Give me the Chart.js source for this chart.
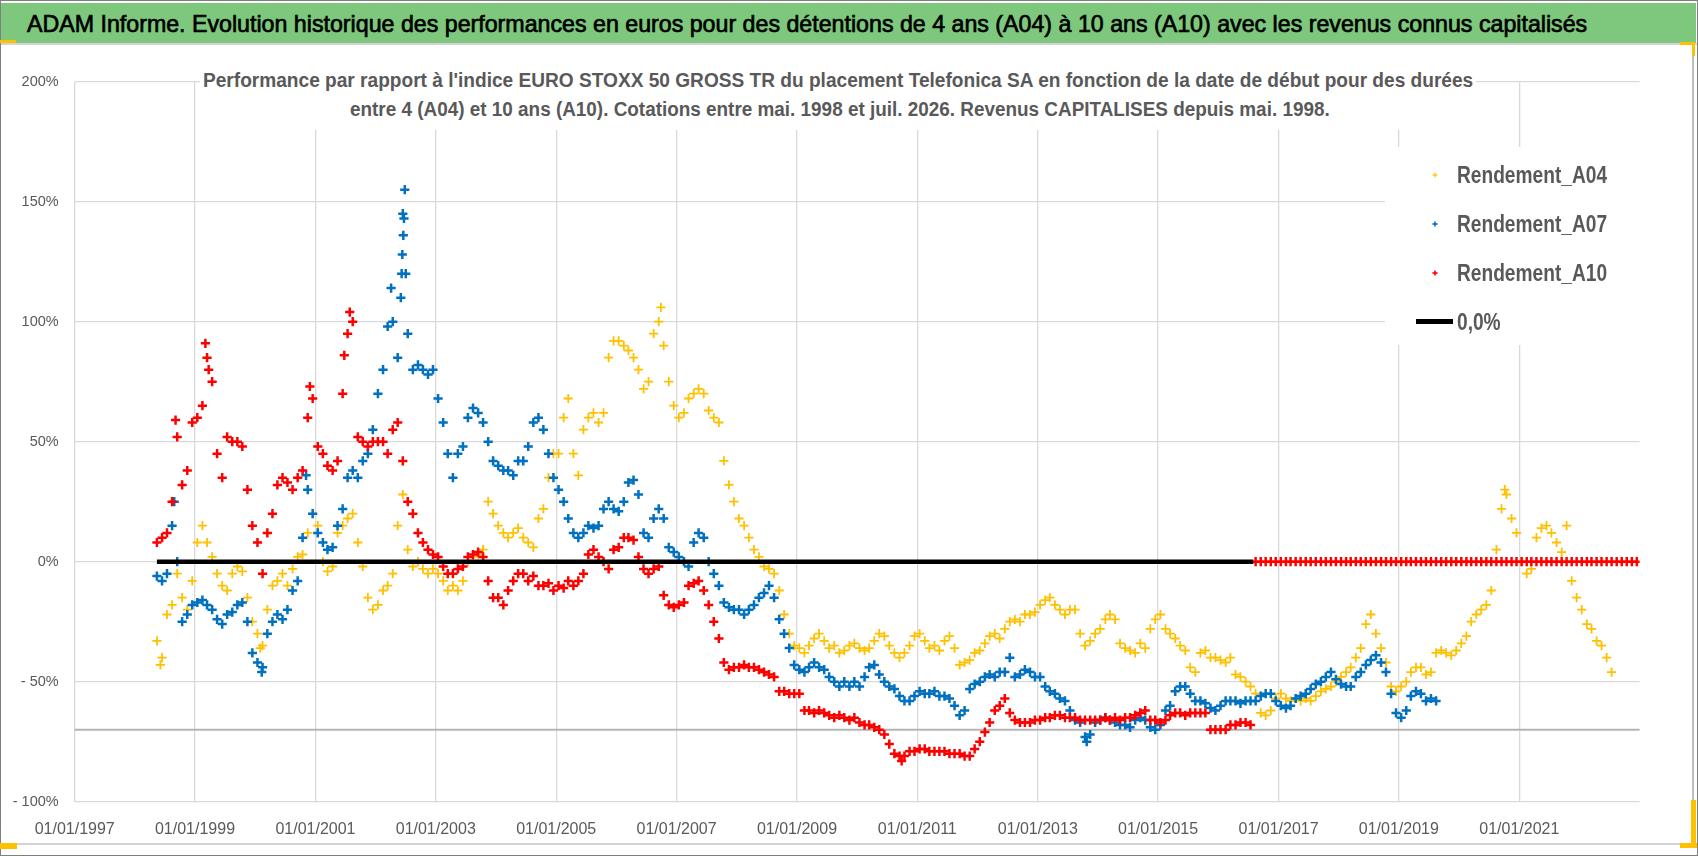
<!DOCTYPE html>
<html>
<head>
<meta charset="utf-8">
<script src="https://cdn.jsdelivr.net/npm/chart.js@4.4.1/dist/chart.umd.min.js"></script>
<style>
html,body{margin:0;padding:0;background:#fff;}
#wrap{position:relative;width:1698px;height:856px;overflow:hidden;background:#fff;font-family:"Liberation Sans",Arial,sans-serif;}
#c{position:absolute;left:0;top:0;}
.abs{position:absolute;pointer-events:none;}
.fit{position:absolute;white-space:nowrap;transform-origin:0 50%;line-height:1;pointer-events:none;}
</style>
</head>
<body>
<div id="wrap">
  <canvas id="c" width="1698" height="856"></canvas>
</div>
<script>
// ---------------- DATA ----------------
const TITLE = "ADAM Informe. Evolution historique des performances en euros pour des détentions de 4 ans (A04) à 10 ans (A10) avec les revenus connus capitalisés";
const SUBTITLE_LINES = [
  "Performance par rapport à l'indice EURO STOXX 50 GROSS TR  du placement Telefonica SA en fonction de la date de début pour des durées",
  "entre 4 (A04) et 10 ans (A10). Cotations entre mai. 1998 et juil. 2026. Revenus CAPITALISES depuis mai. 1998."
];

// monthly readings (mid-month), first reading May 1998
const SERIES_START = [1998, 5];

const A04 = [
  /*1998*/ -33,-40,-22,-18,-5,-15,-20,-8,
  /*1999*/ 8,15,8,2,-5,-10,-12,-5,-2,-4,-15,-25,
  /*2000*/ -30,-35,-20,-10,-8,-5,-10,-3,2,3,12,20,
  /*2001*/ 15,0,-4,-2,12,15,18,20,8,-2,-15,-20,
  /*2002*/ -18,-12,-10,-5,15,28,5,-2,0,-3,-5,-3,
  /*2003*/ -5,-8,-12,-10,-12,-8,0,2,3,5,25,20,
  /*2004*/ 15,12,10,12,14,10,8,6,18,22,35,45,
  /*2005*/ 45,60,68,45,36,55,60,62,58,62,85,92,
  /*2006*/ 92,90,88,85,80,72,75,95,100,90,75,65,
  /*2007*/ 60,62,68,70,72,70,63,60,58,42,32,25,
  /*2008*/ 18,15,10,5,2,-2,-3,-5,-12,-22,-30,-35,
  /*2009*/ -36,-38,-35,-32,-30,-33,-36,-35,-38,-37,-35,-34,
  /*2010*/ -36,-37,-36,-33,-30,-31,-35,-38,-40,-38,-35,-31,
  /*2011*/ -30,-33,-36,-35,-37,-33,-31,-36,-43,-42,-41,-38,
  /*2012*/ -37,-34,-31,-30,-32,-28,-25,-24,-25,-22,-22,-21,
  /*2013*/ -18,-16,-15,-18,-20,-22,-20,-20,-30,-35,-33,-30,
  /*2014*/ -28,-24,-22,-24,-34,-36,-37,-38,-34,-36,-28,-24,
  /*2015*/ -22,-28,-30,-32,-35,-37,-44,-46,-38,-37,-40,-40,
  /*2016*/ -41,-42,-40,-47,-48,-50,-52,-55,-63,-64,-62,-57,
  /*2017*/ -55,-57,-58,-57,-58,-57,-58,-56,-54,-53,-52,-50,
  /*2018*/ -48,-46,-44,-40,-36,-26,-22,-30,-36,-42,-52,-54,
  /*2019*/ -52,-50,-46,-44,-44,-47,-46,-38,-37,-38,-39,-37,
  /*2020*/ -34,-31,-25,-22,-20,-18,-12,5,22,28,18,12,
  /*2021*/ 0,-5,-3,10,14,15,12,8,4,15,-8,-15,
  /*2022*/ -20,-26,-28,-33,-35,-40,-46
];

const A07 = [
  /*1998*/ -6,-8,-5,15,0,-25,-22,-18,
  /*1999*/ -17,-16,-18,-20,-24,-26,-22,-21,-18,-17,-25,-38,
  /*2000*/ -42,-44,-30,-25,-22,-24,-20,-12,-8,10,30,20,
  /*2001*/ 12,8,5,6,15,22,35,38,35,42,45,55,
  /*2002*/ 70,80,98,100,85,145,95,80,82,80,78,80,
  /*2003*/ 68,58,45,35,45,48,60,64,62,58,50,42,
  /*2004*/ 40,38,38,36,42,42,48,58,60,55,45,35,
  /*2005*/ 30,25,18,12,10,12,15,14,15,22,25,22,
  /*2006*/ 21,25,33,34,28,12,10,18,22,18,6,4,
  /*2007*/ 2,0,-2,8,12,10,0,-5,-10,-17,-19,-20,
  /*2008*/ -20,-22,-20,-18,-15,-13,-10,-15,-24,-30,-36,-43,
  /*2009*/ -45,-46,-44,-42,-44,-45,-48,-50,-52,-50,-52,-50,
  /*2010*/ -52,-48,-44,-43,-47,-50,-52,-53,-56,-58,-58,-56,
  /*2011*/ -54,-55,-55,-54,-56,-56,-57,-60,-64,-62,-53,-51,
  /*2012*/ -50,-48,-47,-48,-46,-46,-40,-48,-47,-45,-46,-48,
  /*2013*/ -48,-52,-54,-55,-57,-58,-62,-66,-67,-73,-72,-67,
  /*2014*/ -66,-65,-66,-67,-68,-68,-69,-66,-65,-66,-69,-70,
  /*2015*/ -68,-62,-60,-54,-52,-52,-55,-58,-58,-59,-61,-62,
  /*2016*/ -60,-58,-58,-58,-59,-58,-58,-58,-56,-55,-55,-58,
  /*2017*/ -60,-61,-60,-57,-56,-55,-53,-51,-50,-48,-46,-49,
  /*2018*/ -51,-52,-52,-48,-46,-43,-41,-39,-42,-46,-55,-63,
  /*2019*/ -65,-62,-56,-54,-55,-58,-57,-58
];

const A10 = [
  /*1998*/ 8,10,12,25,52,32,38,58,
  /*1999*/ 60,65,85,75,45,35,52,50,50,48,30,15,
  /*2000*/ 8,-5,12,20,32,35,33,30,35,38,60,68,
  /*2001*/ 48,45,40,38,42,70,95,100,52,50,48,50,
  /*2002*/ 50,50,45,55,58,42,25,20,12,8,5,3,
  /*2003*/ 2,-2,-5,-5,-3,-2,2,3,4,2,-8,-15,
  /*2004*/ -15,-18,-12,-8,-5,-5,-8,-6,-10,-10,-9,-12,
  /*2005*/ -10,-11,-8,-10,-8,-5,3,5,2,0,-3,5,
  /*2006*/ 6,10,10,9,2,-3,-5,-3,-2,-14,-18,-19,
  /*2007*/ -18,-17,-10,-9,-8,-12,-18,-25,-32,-42,-45,-44,
  /*2008*/ -44,-43,-44,-44,-45,-46,-47,-48,-54,-54,-55,-55,
  /*2009*/ -55,-62,-62,-63,-62,-63,-64,-65,-64,-65,-66,-65,
  /*2010*/ -67,-68,-68,-69,-70,-72,-76,-80,-81,-81,-79,-79,
  /*2011*/ -78,-78,-79,-79,-79,-79,-80,-80,-80,-81,-81,-78,
  /*2012*/ -75,-71,-67,-62,-60,-57,-63,-66,-67,-67,-67,-66,
  /*2013*/ -66,-65,-65,-64,-64,-65,-65,-65,-66,-66,-66,-66,
  /*2014*/ -66,-65,-66,-65,-66,-65,-65,-64,-63,-62,-66,-66,
  /*2015*/ -67,-66,-64,-63,-63,-64,-63,-63,-63,-63,-70,-70,
  /*2016*/ -70,-70,-68,-68,-67,-67,-68,0,0,0,0,0,
  /*2017*/ 0,0,0,0,0,0,0,0,0,0,0,0,
  /*2018*/ 0,0,0,0,0,0,0,0,0,0,0,0,
  /*2019*/ 0,0,0,0,0,0,0,0,0,0,0,0,
  /*2020*/ 0,0,0,0,0,0,0,0,0,0,0,0,
  /*2021*/ 0,0,0,0,0,0,0,0,0,0,0,0,
  /*2022*/ 0,0,0,0,0,0,0,0,0,0,0,0
];

// a few extra readings of the sharpest spikes (date, value)
const A04_SPIKES = [["1998-06-05",-43],["2000-02-01",-36],["2006-09-28",106],["2020-10-05",30]];
const A07_SPIKES = [["1998-08-28",25],["2000-11-05",36],["2002-04-05",114],["2002-06-03",110],["2002-06-08",120],
                    ["2002-06-12",128],["2002-06-18",136],["2002-06-22",143],["2002-06-27",155],["2002-07-03",120],
                    ["2000-02-10",-46],["2013-10-25",-75]];
const A10_SPIKES = [["1999-03-05",91],["1999-03-25",80],["2001-07-28",104],["2000-11-28",73],["2010-09-28",-83],
                    ["1998-09-05",59],["2001-06-25",86]];

// 0,0% reference line
const ZERO_LINE_DATES  = ["1998-05-15", "2016-08-01"];
const ZERO_LINE_VALUES = [0, 0];

// axes
const X_MIN_DATE = "1997-01-01";
const X_MAX_DATE = "2023-01-01";
const X_TICK_LABELS = ["01/01/1997","01/01/1999","01/01/2001","01/01/2003","01/01/2005","01/01/2007",
                       "01/01/2009","01/01/2011","01/01/2013","01/01/2015","01/01/2017","01/01/2019","01/01/2021"];
const Y_TICKS = [-100, -50, 0, 50, 100, 150, 200];
const AXIS_CROSS_VALUE = -70;

const SERIES_LABELS = ["Rendement_A04", "Rendement_A07", "Rendement_A10", "0,0%"];
const SERIES_COLORS = ["#FFC000", "#0070C0", "#FF0000", "#000000"];

// ---------------- helpers ----------------
function isoToMs(s){ const p = s.split("-").map(Number); return Date.UTC(p[0], p[1]-1, p[2]); }
function dmyToMs(s){ const p = s.split("/").map(Number); return Date.UTC(p[2], p[1]-1, p[0]); }
function points(values, spikes){
  const pts = values.map((v, i) => ({ x: Date.UTC(SERIES_START[0], SERIES_START[1]-1+i, 15), y: v }));
  spikes.forEach(s => pts.push({ x: isoToMs(s[0]), y: s[1] }));
  return pts.sort((a, b) => a.x - b.x);
}
function pct(v){ return v < 0 ? "- " + Math.abs(v) + "%" : v + "%"; }

const GRID = "#D9D9D9";
const TEXT = "#595959";

const axisCross = {
  id: "axisCross",
  beforeDatasetsDraw(chart){
    const { ctx, chartArea: a, scales: { y } } = chart;
    const py = y.getPixelForValue(AXIS_CROSS_VALUE);
    ctx.save();
    ctx.strokeStyle = "#B4B4B4";
    ctx.lineWidth = 2;
    ctx.beginPath(); ctx.moveTo(a.left, py); ctx.lineTo(a.right, py); ctx.stroke();
    ctx.restore();
  }
};

function scatterSet(label, values, spikes, color, bw, order){
  return {
    label, data: points(values, spikes), order,
    pointStyle: "cross", pointRadius: 4.6, pointHoverRadius: 4.6,
    borderColor: color, backgroundColor: color, pointBorderWidth: bw, borderWidth: bw,
    showLine: false
  };
}

const chart = new Chart(document.getElementById("c").getContext("2d"), {
  type: "scatter",
  data: {
    datasets: [
      { label: SERIES_LABELS[3], type: "line", order: 0,
        data: ZERO_LINE_DATES.map((d, i) => ({ x: isoToMs(d), y: ZERO_LINE_VALUES[i] })),
        borderColor: SERIES_COLORS[3], borderWidth: 4.5, pointRadius: 0, fill: false, tension: 0 },
      scatterSet(SERIES_LABELS[2], A10, A10_SPIKES, SERIES_COLORS[2], 2.5, 1),
      scatterSet(SERIES_LABELS[1], A07, A07_SPIKES, SERIES_COLORS[1], 2.5, 2),
      scatterSet(SERIES_LABELS[0], A04, A04_SPIKES, SERIES_COLORS[0], 1.8, 3)
    ]
  },
  options: {
    responsive: false, animation: false, devicePixelRatio: 1, events: [],
    layout: { padding: { left: 0, top: 81.7, right: 58.4, bottom: 0 } },
    plugins: { legend: { display: false }, title: { display: false }, tooltip: { enabled: false } },
    scales: {
      x: {
        type: "linear", min: isoToMs(X_MIN_DATE), max: isoToMs(X_MAX_DATE),
        afterBuildTicks: s => { s.ticks = X_TICK_LABELS.map(l => ({ value: dmyToMs(l) })); },
        ticks: { callback: (v, i) => X_TICK_LABELS[i], color: TEXT, autoSkip: false, maxRotation: 0,
                 font: { family: "Liberation Sans", size: 16 }, padding: 18 },
        grid: { color: GRID, lineWidth: 1.3, drawTicks: false },
        border: { display: false },
        afterFit: s => { s.height = 54.3; }
      },
      y: {
        min: -100, max: 200,
        afterBuildTicks: s => { s.ticks = Y_TICKS.map(v => ({ value: v })); },
        ticks: { callback: v => pct(v), color: TEXT, font: { family: "Liberation Sans", size: 14.5 }, padding: 16 },
        grid: { color: GRID, lineWidth: 1.3, drawTicks: false },
        border: { display: false },
        afterFit: s => { s.width = 74.7; }
      }
    }
  },
  plugins: [axisCross]
});

// ---------------- frame, title, subtitle, legend (HTML text) ----------------
const wrap = document.getElementById("wrap");
function box(l, t, w, h, css){
  const d = document.createElement("div"); d.className = "abs";
  d.style.cssText += `left:${l}px;top:${t}px;width:${w}px;height:${h}px;` + (css || "");
  wrap.appendChild(d); return d;
}
function text(str, css){
  const d = document.createElement("div"); d.className = "fit"; d.textContent = str;
  d.style.cssText += css; wrap.appendChild(d); return d;
}
function place(el, left, cy, width){
  el.style.left = left + "px"; el.style.top = cy + "px";
  const w = el.offsetWidth;
  el.style.transform = `translateY(-50%) scaleX(${width / w})`;
  return width / w;
}

// outer frame
box(0, 0, 1698, 856, "box-sizing:border-box;border:1px solid #7F7F7F;");
box(1, 3, 1695, 40, "background:#7DC87D;");
box(1, 43, 1696, 2, "background:#D4D4D4;");
box(1692, 45, 1.5, 798, "background:#BDBDBD;");
box(1, 843, 1691, 1.5, "background:#D4D4D4;");
// selection handles
box(0, 40, 16, 3, "background:#FFC000;");
box(1680, 42, 15, 3, "background:#FFC000;");
box(1692, 42, 3, 14, "background:#FFC000;");
box(1691, 800, 5, 48, "background:#FFC000;");
box(1680, 843, 17, 5, "background:#FFC000;");
box(0, 843, 17, 6, "background:#FFC000;");

// title
const t = text(TITLE, "font-size:24px;color:#000;-webkit-text-stroke:0.7px #000;");
place(t, 27, 24, 1560);

// subtitle (white box covering the grid)
box(200, 62, 1276, 68, "background:#fff;");
const s1 = text(SUBTITLE_LINES[0], `font-size:20px;font-weight:bold;color:${TEXT};`);
place(s1, 203, 79.5, 1270);
const s2 = text(SUBTITLE_LINES[1], `font-size:20px;font-weight:bold;color:${TEXT};`);
place(s2, 350, 109, 980);

// legend (white box inside plot area)
box(1385, 147, 255, 198, "background:#fff;");
const LEG_Y = [175, 224, 273.3, 321.7];
const SVGNS = "http://www.w3.org/2000/svg";
let legScale = null;
SERIES_LABELS.forEach((lab, i) => {
  const el = text(lab, `font-size:24px;font-weight:bold;color:${TEXT};`);
  if (legScale === null) { legScale = place(el, 1457, LEG_Y[i], 150); }
  else { el.style.left = "1457px"; el.style.top = LEG_Y[i] + "px"; el.style.transform = `translateY(-50%) scaleX(${legScale})`; }
  if (i < 3) {
    const svg = document.createElementNS(SVGNS, "svg");
    svg.setAttribute("width", "10"); svg.setAttribute("height", "10");
    svg.style.cssText = `position:absolute;left:${1435-5}px;top:${LEG_Y[i]-5}px;`;
    const sw = i === 0 ? 1.2 : 1.6;
    [["5","2.4","5","7.6"],["2.4","5","7.6","5"]].forEach(c => {
      const ln = document.createElementNS(SVGNS, "line");
      ln.setAttribute("x1", c[0]); ln.setAttribute("y1", c[1]); ln.setAttribute("x2", c[2]); ln.setAttribute("y2", c[3]);
      ln.setAttribute("stroke", SERIES_COLORS[i]); ln.setAttribute("stroke-width", sw);
      svg.appendChild(ln);
    });
    wrap.appendChild(svg);
  } else {
    box(1416, LEG_Y[i] - 2.25, 37, 4.5, "background:#000;");
  }
});
</script>
</body>
</html>
